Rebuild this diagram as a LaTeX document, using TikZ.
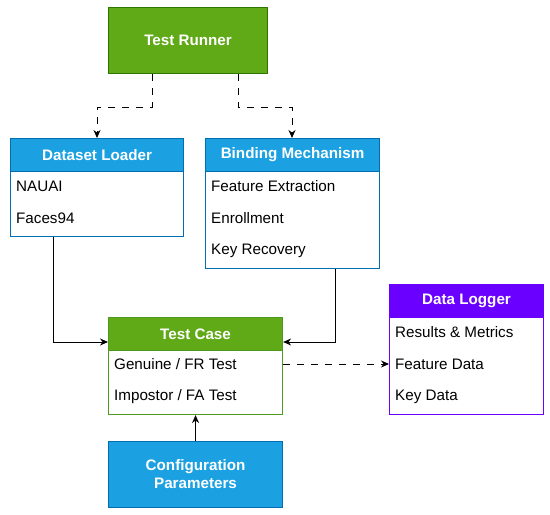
\documentclass[tikz,border=0pt]{standalone}
\usepackage{fontspec}
\setmainfont{Liberation Sans}
\usetikzlibrary{arrows.meta,calc}
\definecolor{gfill}{HTML}{60A917}
\definecolor{gline}{HTML}{2D7600}
\definecolor{tcline}{HTML}{4D9A1E}
\definecolor{bfill}{HTML}{1BA1E2}
\definecolor{bline}{HTML}{006EAF}
\definecolor{pfill}{HTML}{6A00FF}
\tikzset{
  box/.style={draw, line width=1.1pt, anchor=north west, inner sep=0pt},
  hdr/.style={draw, line width=1.1pt, anchor=north west, inner sep=0pt, minimum height=33pt, text=white, font=\bfseries\fontsize{15.2}{18}\selectfont},
  row/.style={anchor=west, inner sep=0pt, font=\fontsize{15.2}{18}\selectfont},
  conn/.style={line width=0.9pt, -{Stealth[length=8pt,width=7pt]}},
  dconn/.style={conn, dash pattern=on 7pt off 7pt}
}
\begin{document}
\begin{tikzpicture}[x=1pt,y=-1pt]
\useasboundingbox (0,0) rectangle (550,515);
% Test Runner
\node[box, draw=gline, fill=gfill, minimum width=159pt, minimum height=66pt] (runner) at (108,7) {};
\node[text=white, font=\bfseries\fontsize{15.2}{18}\selectfont] (runnert) at (runner.center) {Test Runner};
% Dataset Loader
\node[box, draw=bline, fill=white, minimum width=173pt, minimum height=98pt] (dl) at (10,138) {};
\node[hdr, draw=bline, fill=bfill, minimum width=173pt] (dlh) at (10,138) {Dataset Loader};
\node[row] (dl1) at (16,186) {NAUAI};
\node[row] (dl2) at (16,218) {Faces94};
% Binding Mechanism
\node[box, draw=bline, fill=white, minimum width=174pt, minimum height=130pt] (bm) at (205,138) {};
\node[hdr, draw=bline, fill=bfill, minimum width=174pt] (bmh) at (205,138) {Binding Mechanism};
\node[row] (bm1) at (211,186) {Feature Extraction};
\node[row] (bm2) at (211,218) {Enrollment};
\node[row] (bm3) at (211,251) {Key Recovery};
% Test Case
\node[box, draw=tcline, fill=white, minimum width=174pt, minimum height=97pt] (tc) at (108,317) {};
\node[hdr, draw=tcline, fill=gfill, minimum width=174pt] (tch) at (108,317) {Test Case};
\node[row] (tc1) at (114,364) {Genuine / FR Test};
\node[row] (tc2) at (114,397) {Impostor / FA Test};
% Data Logger
\node[box, draw=pfill, fill=white, minimum width=154pt, minimum height=130pt] (lg) at (389,284) {};
\node[hdr, draw=pfill, fill=pfill, minimum width=154pt] (lgh) at (389,284) {Data Logger};
\node[row] (lg1) at (395,332) {Results \& Metrics};
\node[row] (lg2) at (395,364) {Feature Data};
\node[row] (lg3) at (395,397) {Key Data};
% Configuration
\node[box, draw=bline, fill=bfill, minimum width=174pt, minimum height=66pt] (cfg) at (108,441) {};
\node[text=white, align=center, font=\bfseries\fontsize{15.2}{18}\selectfont] (cfgt) at (cfg.center) {Configuration\\Parameters};
% connectors
\draw[dconn] ($(runner.south west)+(44,0)$) -- ++(0,33) -| ($(dl.north west)+(87,0)$);
\draw[dconn] ($(runner.south west)+(130,0)$) -- ++(0,33) -| ($(bm.north west)+(87,0)$);
\draw[conn] ($(dl.south west)+(43,0)$) |- ($(tc.north west)+(0,25)$);
\draw[conn] ($(bm.south west)+(130,0)$) |- ($(tc.north east)+(0,25)$);
\draw[dconn] (tc.east |- tc1) -- (lg.west |- tc1);
\draw[conn] (cfg.north) -- (tc.south);
\end{tikzpicture}
\end{document}
